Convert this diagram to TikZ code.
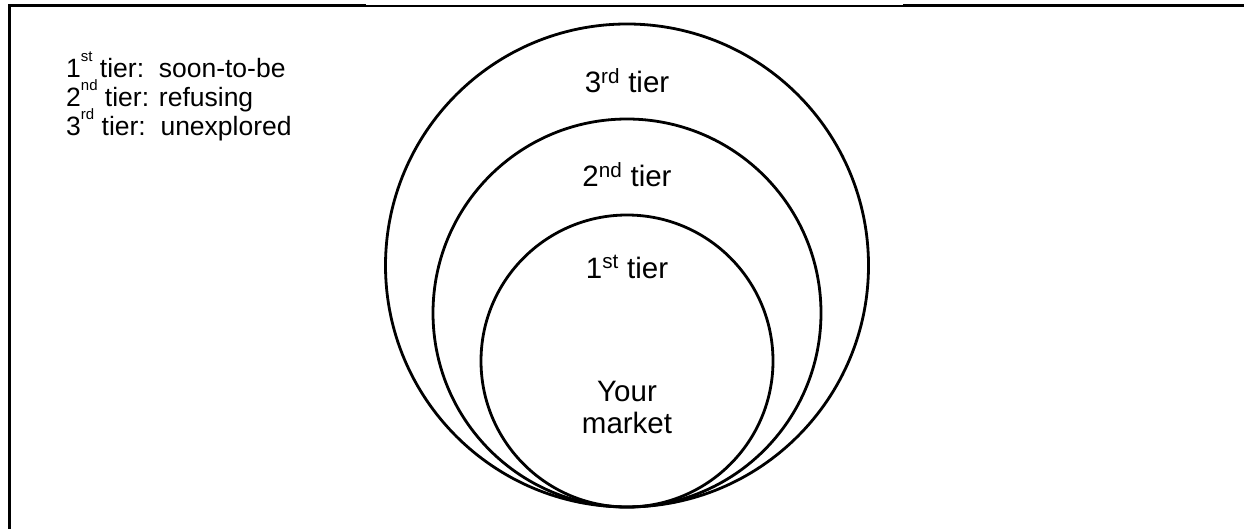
\documentclass[tikz,border=0pt]{standalone}
\usepackage{fontspec}
\setmainfont{Liberation Sans}
\newcommand{\legsup}[1]{\raisebox{0.62em}{\fontsize{15}{15}\selectfont #1}}
\begin{document}
\begin{tikzpicture}[x=1pt,y=-1pt,
  ring/.style={circle,draw=black,line width=2.8pt,inner sep=0pt},
  tierlabel/.style={anchor=base,inner sep=0pt,font=\fontsize{29.5}{32}\selectfont},
  legend/.style={anchor=base west,inner sep=0pt,font=\fontsize{26.5}{28.5}\selectfont},
  thickborder/.style={line width=3pt},
  thinborder/.style={line width=1.2pt}]
\useasboundingbox (0,0) rectangle (1244,529);
% border
\coordinate (tl) at (9,6);
\coordinate (t1) at (366,6);
\coordinate (t2) at (903,6);
\coordinate (tr) at (1244,6);
\coordinate (bl) at (9,529);
\draw[thickborder] (bl) -- (tl) -- (t1);
\draw[thinborder] (t1) -- (t2);
\draw[thickborder] (t2) -- (tr);
% circles
\node[ring,minimum size=483pt] (outer) at (627,265.5) {};
\node[ring,minimum size=388pt] (middle) at (627,313) {};
\node[ring,minimum size=292pt] (inner) at (627,361) {};
% labels
\node[tierlabel] (l3) at (627,92.7) {3\textsuperscript{rd} tier};
\node[tierlabel] (l2) at (627,186.7) {2\textsuperscript{nd} tier};
\node[tierlabel] (l1) at (627,278) {1\textsuperscript{st} tier};
\node[tierlabel] (your) at (627,401.7) {Your};
\node[tierlabel] (market) at (627,433) {market};
% legend
\node[legend] (g1) at (66,78) {1\legsup{st} tier:\ \ soon-to-be};
\node[legend] (g2) at (66,107) {2\legsup{nd} tier: refusing};
\node[legend] (g3) at (66,135.5) {3\legsup{rd} tier:\ \ unexplored};
\end{tikzpicture}
\end{document}
